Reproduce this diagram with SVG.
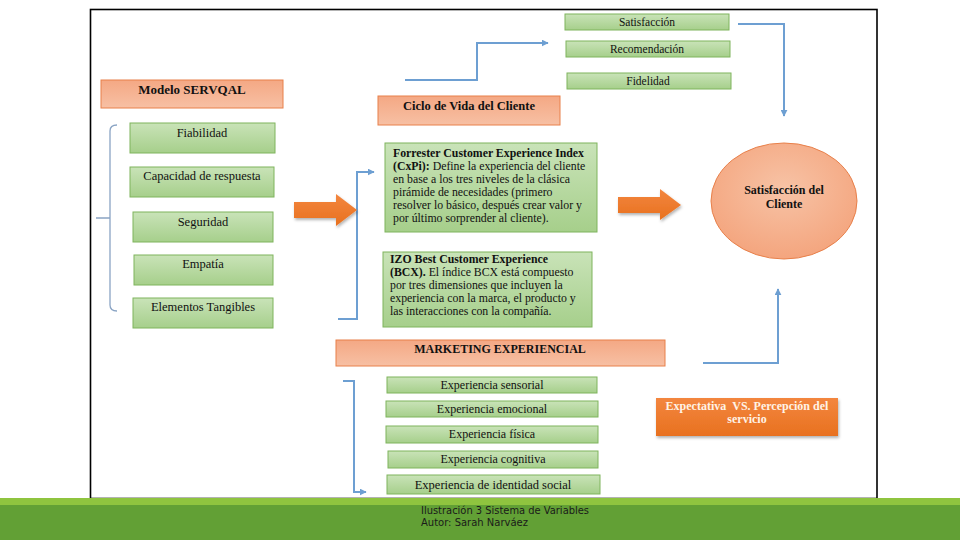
<svg xmlns="http://www.w3.org/2000/svg" width="960" height="540" viewBox="0 0 960 540">
<defs>
<linearGradient id="gGreen" x1="0" y1="0" x2="0" y2="1"><stop offset="0" stop-color="#c9e3b8"/><stop offset="1" stop-color="#a6cf8b"/></linearGradient>
<linearGradient id="gSalmon" x1="0" y1="0" x2="0" y2="1"><stop offset="0" stop-color="#f4a884"/><stop offset="1" stop-color="#f7c0a4"/></linearGradient>
<linearGradient id="gOrange" x1="0" y1="0" x2="0" y2="1"><stop offset="0" stop-color="#f3863f"/><stop offset="1" stop-color="#e8711f"/></linearGradient>
<radialGradient id="gEll" cx="0.5" cy="0.4" r="0.6"><stop offset="0" stop-color="#f7c3a6"/><stop offset="1" stop-color="#f4a57e"/></radialGradient>
<marker id="ah" viewBox="0 0 10 10" refX="9" refY="5" markerWidth="3.5" markerHeight="3.5" orient="auto"><path d="M0,0 L10,5 L0,10 z" fill="#6d9fd2"/></marker>
<filter id="sh" x="-10%" y="-20%" width="120%" height="150%"><feDropShadow dx="1" dy="2" stdDeviation="1.5" flood-color="#000" flood-opacity="0.3"/></filter>
</defs>
<style>
.g{fill:url(#gGreen);stroke:#7fb45c;stroke-width:1}
.s{fill:url(#gSalmon);stroke:#e8804a;stroke-width:1}
.t{font-family:"Liberation Serif","Times New Roman",serif;fill:#111;text-anchor:middle}
.tl{font-family:"Liberation Serif","Times New Roman",serif;fill:#111;font-size:11.8px}
.b{font-weight:bold}
.c{fill:none;stroke:#6d9fd2;stroke-width:2}
.br{fill:none;stroke:#8aa4c4;stroke-width:1.3}
.oa{fill:url(#gOrange)}
</style>
<rect x="0" y="0" width="960" height="540" fill="#ffffff"/>
<rect x="90.5" y="9.5" width="786.5" height="489" fill="#ffffff" stroke="#000" stroke-width="1.6"/>
<rect x="0" y="498" width="960" height="8" fill="#8fc43f"/>
<rect x="0" y="505" width="960" height="35" fill="#62a035"/>

<g id="connectors">
<path class="br" d="M117,125 Q110,125 110,131 V305 Q110,311 117,311 M96,218 H110"/>
<path class="c" d="M338,319 H357 V172 H374" marker-end="url(#ah)"/>
<path class="c" d="M405,80 H477 V43 H548" marker-end="url(#ah)"/>
<path class="c" d="M738,24 H784 V116" marker-end="url(#ah)"/>
<path class="c" d="M703,363 H778 V289" marker-end="url(#ah)"/>
<path class="c" d="M343,381 H354 V492 H366" marker-end="url(#ah)"/>
<path class="oa" d="M294,202 H336 V194 L357,210 L336,226 V218 H294 Z" filter="url(#sh)"/>
<path class="oa" d="M618,197 H660 V189 L681,205 L660,220 V213 H618 Z" filter="url(#sh)"/>
</g>

<g id="servqal"><rect class="s" x="101" y="80" width="182" height="28"/><text class="t b" x="192" y="94" font-size="13">Modelo SERVQAL</text></g>
<g id="fiabilidad"><rect class="g" x="130" y="123" width="145" height="30"/><text class="t" x="202" y="137" font-size="12.5">Fiabilidad</text></g>
<g id="capacidad"><rect class="g" x="130" y="167" width="144" height="30"/><text class="t" x="202" y="180" font-size="12.5">Capacidad de respuesta</text></g>
<g id="seguridad"><rect class="g" x="133" y="212" width="140" height="30"/><text class="t" x="203" y="226" font-size="12.5">Seguridad</text></g>
<g id="empatia"><rect class="g" x="134" y="255" width="139" height="30"/><text class="t" x="203" y="268" font-size="12.5">Empatía</text></g>
<g id="tangibles"><rect class="g" x="133" y="298" width="140" height="30"/><text class="t" x="203" y="311" font-size="12.5">Elementos Tangibles</text></g>

<g id="ciclo"><rect class="s" x="378" y="96" width="182" height="29"/><text class="t b" x="469" y="110" font-size="12.5">Ciclo de Vida del Cliente</text></g>
<g id="satisfaccion"><rect class="g" x="565" y="14" width="164" height="16"/><text class="t" x="647" y="26" font-size="11.5">Satisfacción</text></g>
<g id="recomendacion"><rect class="g" x="566" y="41" width="164" height="16"/><text class="t" x="647" y="53" font-size="11.5">Recomendación</text></g>
<g id="fidelidad"><rect class="g" x="567" y="73" width="164" height="16"/><text class="t" x="648" y="85" font-size="11.5">Fidelidad</text></g>

<g id="forrester"><rect class="g" x="385" y="143" width="212" height="89"/>
<text class="tl"><tspan x="393" y="157" font-weight="bold">Forrester Customer Experience Index</tspan><tspan x="393" y="170"><tspan font-weight="bold">(CxPi):</tspan> Define la experiencia del cliente</tspan><tspan x="393" y="183">en base a los tres niveles de la clásica</tspan><tspan x="393" y="196">pirámide de necesidades (primero</tspan><tspan x="393" y="209">resolver lo básico, después crear valor y</tspan><tspan x="393" y="222">por último sorprender al cliente).</tspan></text></g>

<g id="izo"><rect class="g" x="383" y="252" width="209" height="75"/>
<text class="tl"><tspan x="390" y="263" font-weight="bold">IZO Best Customer Experience</tspan><tspan x="390" y="276"><tspan font-weight="bold">(BCX).</tspan> El índice BCX está compuesto</tspan><tspan x="390" y="289">por tres dimensiones que incluyen la</tspan><tspan x="390" y="302">experiencia con la marca, el producto y</tspan><tspan x="390" y="315">las interacciones con la compañía.</tspan></text></g>

<g id="satisfaccion-cliente"><ellipse cx="784" cy="201" rx="73" ry="58" fill="url(#gEll)" stroke="#e8804a" stroke-width="1"/><text class="t b" x="784" y="194" font-size="12">Satisfacción del</text><text class="t b" x="784" y="208" font-size="12">Cliente</text></g>

<g id="marketing"><rect class="s" x="336" y="340" width="329" height="26"/><text class="t b" x="500" y="353" font-size="12">MARKETING EXPERIENCIAL</text></g>
<g id="sensorial"><rect class="g" x="387" y="377" width="210" height="16"/><text class="t" x="492" y="389" font-size="12">Experiencia sensorial</text></g>
<g id="emocional"><rect class="g" x="386" y="401" width="212" height="16"/><text class="t" x="492" y="413" font-size="12">Experiencia emocional</text></g>
<g id="fisica"><rect class="g" x="386" y="426" width="212" height="17"/><text class="t" x="492" y="438" font-size="12">Experiencia física</text></g>
<g id="cognitiva"><rect class="g" x="388" y="451" width="210" height="17"/><text class="t" x="493" y="463" font-size="12">Experiencia cognitiva</text></g>
<g id="social"><rect class="g" x="387" y="475" width="213" height="19"/><text class="t" x="493" y="489" font-size="12.5">Experiencia de identidad social</text></g>

<g id="expectativa"><rect x="656" y="398" width="182" height="38" fill="url(#gOrange)" filter="url(#sh)"/><text class="t b" x="747" y="410" font-size="12" style="fill:#fff3e6">Expectativa &#160;VS. Percepción del</text><text class="t b" x="747" y="423" font-size="12" style="fill:#fff3e6">servicio</text></g>

<g id="caption"><text x="421" y="514" font-family="'DejaVu Sans Condensed','DejaVu Sans',sans-serif" font-stretch="condensed" font-size="10" fill="#1a1a1a" textLength="168" lengthAdjust="spacingAndGlyphs">Ilustración 3 Sistema de Variables</text><text x="421" y="526" font-family="'DejaVu Sans Condensed','DejaVu Sans',sans-serif" font-stretch="condensed" font-size="10" fill="#1a1a1a" textLength="107" lengthAdjust="spacingAndGlyphs">Autor: Sarah Narváez</text></g>
</svg>
